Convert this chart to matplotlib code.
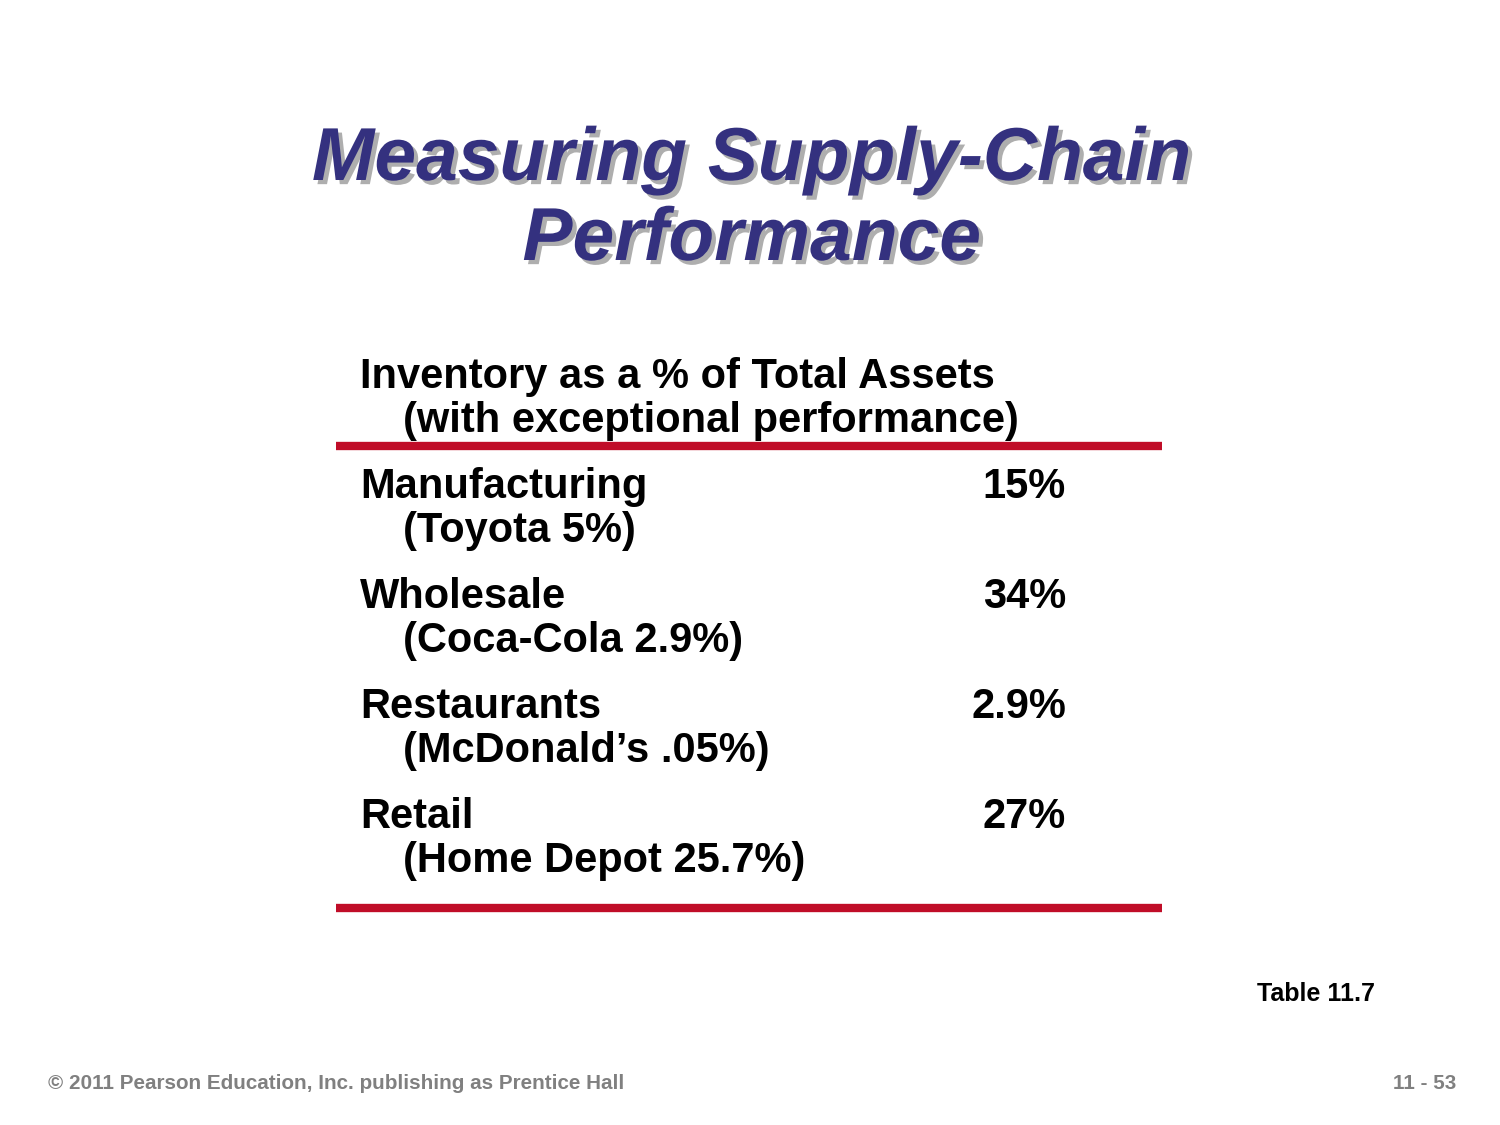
import matplotlib.pyplot as plt
import matplotlib.patheffects as pe

# Slide content
title_lines = ['Measuring Supply-Chain', 'Performance']
header_lines = ['Inventory as a % of Total Assets', '(with exceptional performance)']
industries = ['Manufacturing', 'Wholesale', 'Restaurants', 'Retail']
examples = ['(Toyota 5%)', '(Coca-Cola 2.9%)', '(McDonald\u2019s .05%)', '(Home Depot 25.7%)']
values = ['15%', '34%', '2.9%', '27%']
table_ref = 'Table 11.7'
footer_left = '\u00a9 2011 Pearson Education, Inc. publishing as Prentice Hall'
footer_right = '11 - 53'

plt.rcParams['font.family'] = ['Liberation Sans', 'DejaVu Sans']

fig = plt.figure(figsize=(15, 11.25), dpi=100)
ax = fig.add_axes([0, 0, 1, 1])
ax.set_xlim(0, 1500)
ax.set_ylim(1125, 0)
ax.axis('off')

# Title with drop shadow
shadow = [pe.SimplePatchShadow(offset=(3, -3), shadow_rgbFace='#8c8c8c', alpha=0.7), pe.Normal()]
for y, line in zip([180, 260], title_lines):
    ax.text(752, y, line, ha='center', va='baseline', fontsize=54, fontweight='bold',
            fontstyle='italic', color='#34317f', path_effects=shadow)

# Header
body = dict(fontsize=30, fontweight='bold', color='black', va='baseline')
ax.text(360, 388, header_lines[0], ha='left', **body)
ax.text(403, 432, header_lines[1], ha='left', **body)

# Red rules
ax.plot([336, 1162], [446, 446], color='#c00d28', lw=6, solid_capstyle='butt')
ax.plot([336, 1162], [908, 908], color='#c00d28', lw=6, solid_capstyle='butt')

# Rows
for i, (ind, ex, val) in enumerate(zip(industries, examples, values)):
    yb = 498 + i * 110
    ax.text(360, yb, ind, ha='left', **body)
    ax.text(403, yb + 44, ex, ha='left', **body)
    ax.text(1066, yb, val, ha='right', **body)

ax.text(1375, 1001, table_ref, ha='right', va='baseline', fontsize=18, fontweight='bold')

ax.text(48, 1089, footer_left, ha='left', va='baseline', fontsize=14.9,
        fontweight='bold', color='#808080')
ax.text(1456, 1089, footer_right, ha='right', va='baseline', fontsize=14.9,
        fontweight='bold', color='#808080')

fig.savefig('out.png', dpi=100, facecolor='white')
